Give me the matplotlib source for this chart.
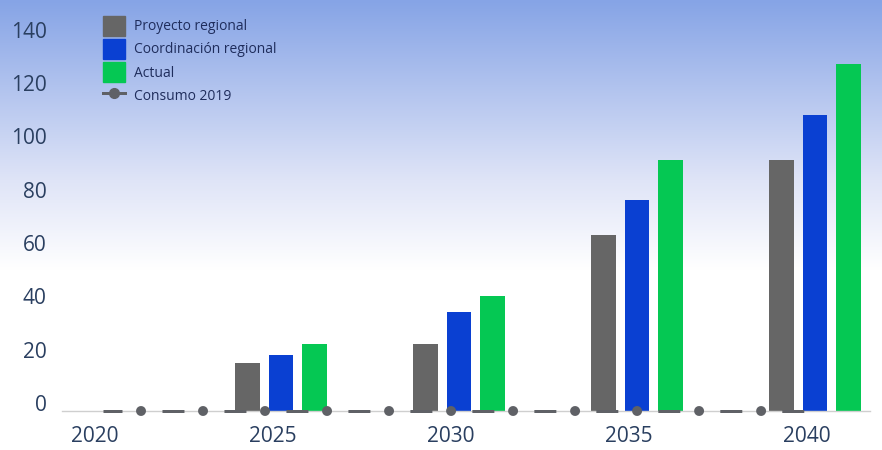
import numpy as np
import matplotlib
matplotlib.use("Agg")
import matplotlib.pyplot as plt
import matplotlib.transforms as mtransforms
from matplotlib.patches import Patch
from matplotlib.lines import Line2D
from matplotlib.colors import to_rgb

plt.rcParams['font.family'] = ['Open Sans', 'DejaVu Sans']

years = ["2020", "2025", "2030", "2035", "2040"]
proyecto_regional = [0, 18, 25, 66, 94]
coordinacion_regional = [0, 21, 37, 79, 111]
actual = [0, 25, 43, 94, 130]
consumo_2019 = [0, 0, 0, 0, 0]

c_grey = "#666666"
c_blue = "#0a40d2"
c_green = "#05c853"
c_line = "#5f6166"
c_text = "#2a3f60"

fig = plt.figure(figsize=(8.82, 4.5), dpi=100)

# background gradient (blue on top, white from ~60% down)
bg = fig.add_axes([0, 0, 1, 1], zorder=-10)
top = np.array(to_rgb("#86a4e6"))
mid = np.array(to_rgb("#dfe4f7"))
white = np.array([1.0, 1.0, 1.0])
t = np.linspace(0, 1, 450)[:, None]
grad = np.where(t < 0.4, top + (mid - top) * (t / 0.4),
                mid + (white - mid) * np.clip((t - 0.4) / 0.2, 0, 1))
bg.imshow(grad[:, None, :], aspect="auto", extent=[0, 1, 0, 1])
bg.axis("off")

ax = fig.add_axes([62 / 882, 39 / 450, 808 / 882, 400 / 450])
ax.set_facecolor("none")

x = np.arange(len(years))
w = 0.138
step = 0.188
ax.bar(x - step, proyecto_regional, w, color=c_grey, zorder=2)
ax.bar(x, coordinacion_regional, w, color=c_blue, zorder=2)
ax.bar(x + step, actual, w, color=c_green, zorder=2)

# Consumo 2019: dashed line plus round dots from a dash pattern
ax.plot(x, consumo_2019, color=c_line, lw=2.16, solid_capstyle="butt",
        dash_capstyle="butt", linestyle=(1.0, (7.33, 13.33)), zorder=3,
        clip_on=False)
ax.plot(x, consumo_2019, color=c_line, lw=7.2, dash_capstyle="round",
        linestyle=(2.4, (0.001, 6.2)), zorder=3, clip_on=False)

ax.set_xlim(-0.230, 4.309)
ax.set_ylim(0, 150)
ax.set_yticks(np.arange(0, 141, 20))
ax.set_xticks(x)
ax.set_xticklabels(years)
ax.tick_params(axis="both", length=0, labelsize=15, colors=c_text)
ax.tick_params(axis="y", pad=11)
ax.tick_params(axis="x", pad=11)

offset = mtransforms.ScaledTranslation(0, 0.08, fig.dpi_scale_trans)
for lab in ax.get_yticklabels():
    lab.set_transform(lab.get_transform() + offset)
xoff = mtransforms.ScaledTranslation(-0.08, 0, fig.dpi_scale_trans)
for lab in ax.get_xticklabels():
    lab.set_transform(lab.get_transform() + xoff)

for s in ["top", "right", "left"]:
    ax.spines[s].set_visible(False)
ax.spines["bottom"].set_color("#cfcfcf")
ax.spines["bottom"].set_linewidth(1)

handles = [
    Patch(color=c_grey),
    Patch(color=c_blue),
    Patch(color=c_green),
    Line2D([0], [0], color=c_line, lw=2.16, marker="o", markersize=7),
]
labels = ["Proyecto regional", "Coordinación regional", "Actual", "Consumo 2019"]
leg = fig.legend(handles, labels, loc="upper left",
                 bbox_to_anchor=(103 / 882, 1 - 16 / 450),
                 frameon=False, fontsize=10, handlelength=1.55, handleheight=1.8,
                 labelspacing=0.25, handletextpad=0.65, borderpad=0,
                 borderaxespad=0, numpoints=1)
for txt in leg.get_texts():
    txt.set_color("#1f2d5c")

fig.savefig("out.png", dpi=100)
